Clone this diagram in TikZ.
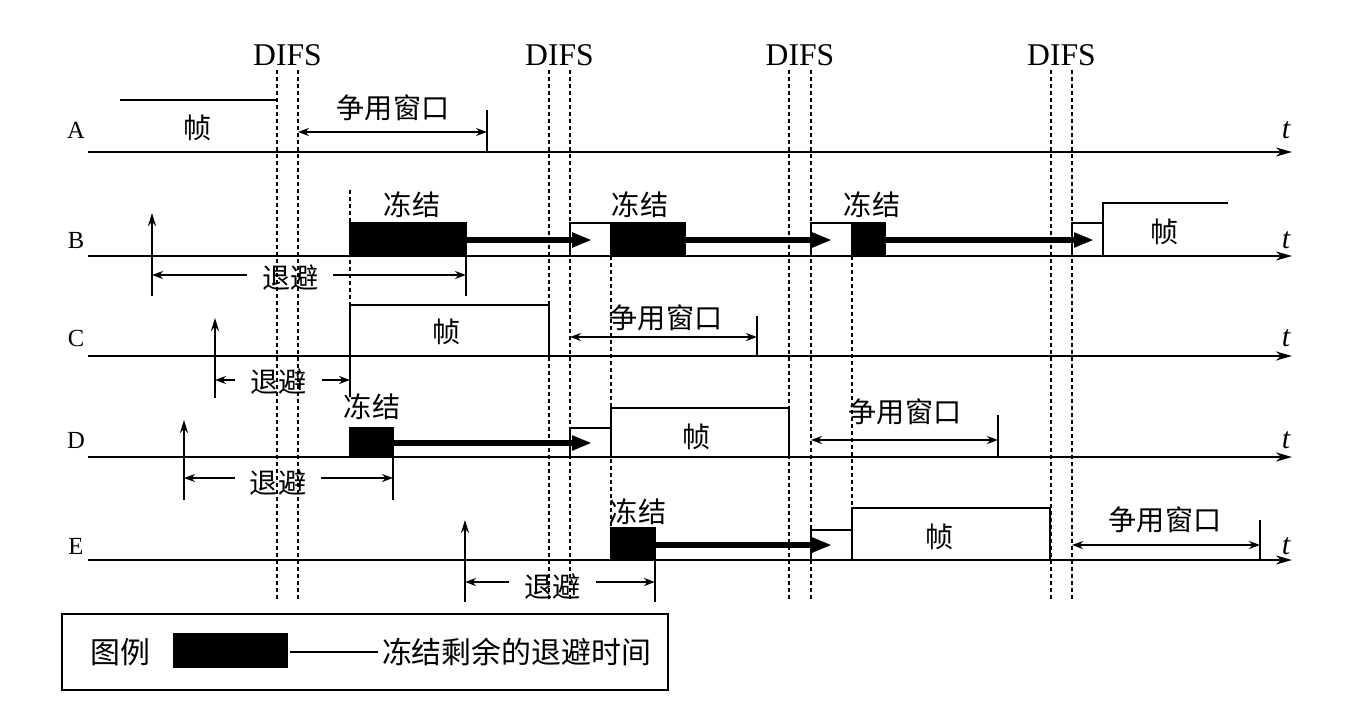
\documentclass[tikz,border=0pt]{standalone}
\usepackage{fontspec}
\setmainfont{Liberation Serif}
\newfontfamily\cjk{Noto Sans CJK SC}
\usetikzlibrary{arrows.meta,positioning}

\tikzset{
  zh/.style={font=\cjk\fontsize{16}{16}\selectfont, inner sep=1pt},
  gap/.style={zh, fill=white, inner xsep=3mm},
  axis/.style={line width=0.45mm, -{Stealth[length=3.2mm,width=1.8mm]}},
  difs/.style={line width=0.35mm, dash pattern=on 0.8mm off 0.6mm},
  edge/.style={line width=0.4mm},
  frozen/.style={fill=black, draw=black, line width=0.3mm},
  wait/.style={line width=1.3mm, -{Triangle[length=4mm,width=2.8mm]}},
  span/.style={line width=0.35mm, {Stealth[length=2.2mm,width=1.6mm]}-{Stealth[length=2.2mm,width=1.6mm]}},
  ready/.style={line width=0.45mm, -{Stealth[length=2.6mm,width=1.6mm]}},
}

\begin{document}
\begin{tikzpicture}[x=0.2mm,y=-0.2mm]
  \useasboundingbox (0,0) rectangle (1352,712);
  % time axes
  \foreach \n/\y/\ly in {A/152/130,B/256/240,C/356/338,D/457/440,E/560/546}{
    \draw[axis] (88,\y) -- (1292,\y);
    \node[font=\fontsize{14}{14}\selectfont] (row\n) at (76,\ly) {\n};
    \node[font=\itshape\fontsize{17}{17}\selectfont] (t\n) at (1286,\ly) {t};
  }

  % A
  \draw[edge] (120,100) -- (277,100);
  \node[zh] (frmA) at (198,128) {帧};
  \draw[span] (298,132) -- (487,132);
  \draw[edge] (487,110) -- (487,152);
  \node[zh] (cwA) at (393,108) {争用窗口};

  % B
  \draw[ready] (152,296) -- (152,213);
  \draw[frozen] (350,223) rectangle (466,256);
  \node[zh] (frzB1) at (412,205) {冻结};
  \draw[edge] (466,256) -- (466,296);
  \draw[span] (152,275) -- node[gap,pos=0.44,yshift=-0.6mm] (bkB) {退避} (466,275);
  \draw[edge] (570,256) -- (570,223) -- (611,223);
  \draw[frozen] (611,223) rectangle (685,256);
  \node[zh] (frzB2) at (640,205) {冻结};
  \draw[edge] (811,256) -- (811,223) -- (852,223);
  \draw[frozen] (852,223) rectangle (885,256);
  \node[zh] (frzB3) at (872,205) {冻结};
  \draw[edge] (1072,256) -- (1072,223) -- (1103,223);
  \draw[edge] (1103,256) -- (1103,203) -- (1228,203);
  \node[zh] (frmB) at (1165,232) {帧};
  \draw[wait] (466,240) -- (592,240);
  \draw[wait] (685,240) -- (832,240);
  \draw[wait] (885,240) -- (1094,240);

  % C
  \draw[ready] (215,398) -- (215,318);
  \draw[edge] (350,397) -- (350,305) -- (549,305) -- (549,356);
  \node[zh] (frmC) at (447,332) {帧};
  \draw[span] (215,380) -- node[gap,pos=0.47,yshift=-0.4mm] (bkC) {退避} (350,380);
  \draw[span] (570,337) -- (757,337);
  \draw[edge] (757,316) -- (757,356);
  \node[zh] (cwC) at (666,318) {争用窗口};

  % D
  \draw[ready] (184,500) -- (184,420);
  \draw[frozen] (350,428) rectangle (393,457);
  \node[zh] (frzD) at (372,407) {冻结};
  \draw[edge] (393,457) -- (393,500);
  \draw[span] (184,478) -- node[gap,pos=0.45,yshift=-1mm] (bkD) {退避} (393,478);
  \draw[edge] (570,457) -- (570,428) -- (611,428);
  \draw[edge] (611,457) -- (611,408) -- (789,408) -- (789,457);
  \node[zh] (frmD) at (697,437) {帧};
  \draw[wait] (393,443) -- (592,443);
  \draw[span] (811,440) -- (998,440);
  \draw[edge] (998,415) -- (998,457);
  \node[zh] (cwD) at (905,412) {争用窗口};

  % E
  \draw[ready] (465,602) -- (465,520);
  \draw[frozen] (611,528) rectangle (655,560);
  \node[zh] (frzE) at (638,512) {冻结};
  \draw[edge] (655,560) -- (655,602);
  \draw[span] (465,582) -- node[gap,pos=0.46,yshift=-1mm] (bkE) {退避} (655,582);
  \draw[edge] (811,560) -- (811,530) -- (852,530);
  \draw[edge] (852,560) -- (852,508) -- (1050,508) -- (1050,560);
  \node[zh] (frmE) at (940,537) {帧};
  \draw[wait] (655,545) -- (832,545);
  \draw[span] (1072,545) -- (1260,545);
  \draw[edge] (1260,520) -- (1260,560);
  \node[zh] (cwE) at (1165,520) {争用窗口};

  % DIFS
  \foreach \a/\b [count=\i] in {277/298,549/570,789/811,1051/1072}{
    \draw[difs] (\a,70) -- (\a,600);
    \draw[difs] (\b,70) -- (\b,600);
    \node[font=\fontsize{18}{18}\selectfont] (difs\i) at ({(\a+\b)/2},55) {DIFS};
  }
  \draw[difs] (350,190) -- (350,305);
  \draw[difs] (611,256) -- (611,528);
  \draw[difs] (852,256) -- (852,508);

  % legend
  \draw[edge] (62,614) rectangle (668,690);
  \node[zh,font=\cjk\fontsize{17}{17}\selectfont] (key) at (120,652) {图例};
  \fill (173,633) rectangle (288,668);
  \draw[edge] (290,652) -- (378,652);
  \node[zh,font=\cjk\fontsize{17}{17}\selectfont,anchor=west] (keytext) at (380,652) {冻结剩余的退避时间};
\end{tikzpicture}
\end{document}
